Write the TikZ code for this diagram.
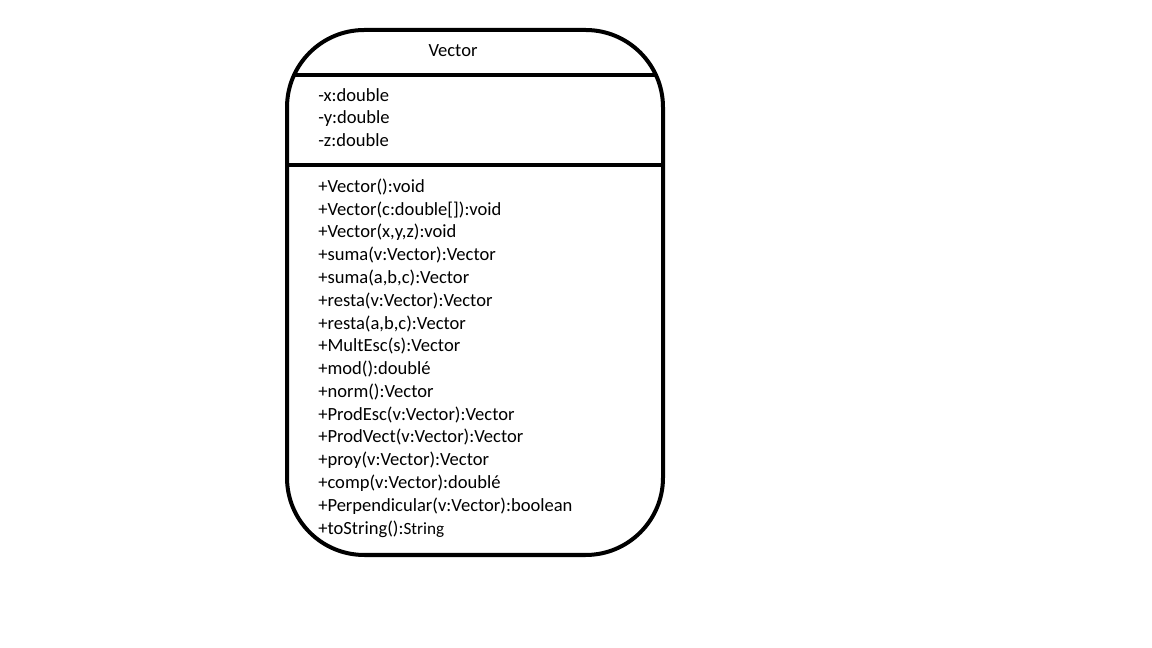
\documentclass[tikz,border=0pt]{standalone}
\usepackage{fontspec}
\setmainfont{Carlito}
\usetikzlibrary{positioning}

\begin{document}
\begin{tikzpicture}[x=0.025cm, y=-0.025cm,
     node distance = 0pt,
        cls/.style = {draw, line width=0.1cm, rounded corners=55},
        sep/.style = {line width=0.1cm},
      title/.style = {font=\fontsize{13.2}{16.2}\selectfont, inner sep=0pt, anchor=base},
    members/.style = {font=\fontsize{13.2}{16.2}\selectfont, align=left, inner sep=0pt, anchor=north west}
                        ]
\useasboundingbox (0,0) rectangle (1152,648);
% class box
\draw[cls] (287,30) rectangle (663,555);
\begin{scope}
\clip[rounded corners=55] (287,30) rectangle (663,555);
\draw[sep] (287,75) -- (663,75);
\draw[sep] (287,165) -- (663,165);
\end{scope}
% texts
\node (name)  [title] at (453,57) {Vector};
\node (attrs) [members] at (318,88) {-x:double\\-y:double\\-z:double};
\node (ops)   [members] at (318,178.5) {+Vector():void\\
+Vector(c:double[]):void\\
+Vector(x,y,z):void\\
+suma(v:Vector):Vector\\
+suma(a,b,c):Vector\\
+resta(v:Vector):Vector\\
+resta(a,b,c):Vector\\
+MultEsc(s):Vector\\
+mod():doublé\\
+norm():Vector\\
+ProdEsc(v:Vector):Vector\\
+ProdVect(v:Vector):Vector\\
+proy(v:Vector):Vector\\
+comp(v:Vector):doublé\\
+Perpendicular(v:Vector):boolean\\
+toString():{\fontsize{12.2}{16.2}\selectfont String}};
\end{tikzpicture}
\end{document}
